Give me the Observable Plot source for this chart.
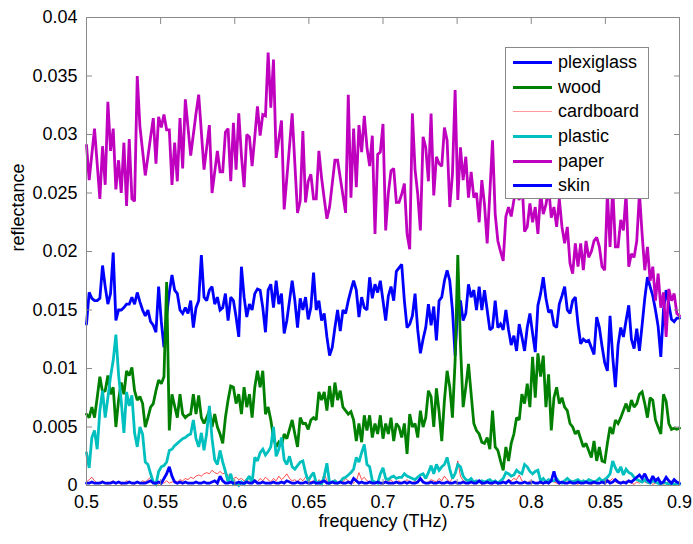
<!DOCTYPE html>
<html><head><meta charset="utf-8">
<script src="https://cdn.jsdelivr.net/npm/d3@7"></script>
<script src="https://cdn.jsdelivr.net/npm/@observablehq/plot@0.6"></script>
<style>
body{margin:0;background:#fff;font-family:"Liberation Sans",Arial,sans-serif;}
#wrap{position:relative;width:693px;height:544px;}
#legend{position:absolute;left:505px;top:47px;width:144px;height:152px;border:1px solid #888;background:#fff;box-sizing:border-box;padding-top:2px}
.row{display:flex;align-items:center;height:24.7px;font-size:18px;color:#000;white-space:nowrap}
.sw{width:39px;margin-left:7px;margin-right:6px}
</style></head><body><div id="wrap"><div id="legend"></div></div>
<script>
const xTicks = [0.5,0.55,0.6,0.65,0.7,0.75,0.8,0.85,0.9];
const yTicks = [0,0.005,0.01,0.015,0.02,0.025,0.03,0.035,0.04];
const N = 223;
const freq = d3.range(N).map(i => 0.5 + i * 0.4 / (N - 1));

const plexiglass = [
.0138,.0165,.0160,.0158,.0158,.0160,.0188,.0170,.0155,.0164,
.0199,.0141,.0150,.0150,.0152,.0155,.0155,.0161,.0155,.0165,
.0157,.0150,.0145,.0150,.0140,.0137,.0131,.0170,.0140,.0118,
.0145,.0165,.0180,.0167,.0164,.0150,.0147,.0152,.0147,.0158,
.0135,.0152,.0158,.0197,.0161,.0158,.0167,.0170,.0155,.0161,
.0150,.0152,.0164,.0141,.0161,.0158,.0144,.0127,.0187,.0161,
.0144,.0155,.0150,.0164,.0168,.0167,.0152,.0131,.0167,.0172,
.0152,.0175,.0155,.0164,.0130,.0141,.0158,.0175,.0158,.0135,
.0160,.0150,.0161,.0142,.0152,.0182,.0150,.0158,.0141,.0147,
.0127,.0111,.0118,.0135,.0150,.0132,.0150,.0147,.0158,.0167,
.0175,.0167,.0144,.0161,.0152,.0150,.0178,.0160,.0172,.0165,
.0175,.0158,.0141,.0162,.0170,.0158,.0183,.0186,.0189,.0158,
.0135,.0138,.0145,.0164,.0133,.0113,.0125,.0135,.0155,.0137,
.0153,.0124,.0158,.0161,.0175,.0184,.0175,.0150,.0111,.0155,
.0158,.0141,.0147,.0172,.0161,.0167,.0150,.0170,.0150,.0167,
.0150,.0133,.0135,.0158,.0135,.0138,.0133,.0150,.0133,.0120,
.0128,.0115,.0138,.0127,.0115,.0135,.0147,.0130,.0114,.0154,
.0164,.0178,.0160,.0148,.0150,.0137,.0135,.0155,.0162,.0170,
.0150,.0147,.0158,.0161,.0138,.0121,.0125,.0123,.0124,.0118,
.0112,.0144,.0135,.0119,.0105,.0098,.0145,.0110,.0084,.0120,
.0135,.0127,.0141,.0154,.0125,.0117,.0134,.0115,.0137,.0160,
.0178,.0170,.0162,.0150,.0136,.0110,.0150,.0167,.0155,.0142,
.0140,.0143,.0143];

const wood = [
.0061,.0058,.0067,.0058,.0075,.0093,.0080,.0081,.0094,.0078,
.0084,.0050,.0073,.0088,.0078,.0098,.0094,.0101,.0081,.0073,
.0076,.0070,.0050,.0058,.0067,.0070,.0081,.0090,.0087,.0093,
.0174,.0047,.0078,.0068,.0058,.0078,.0061,.0058,.0060,.0061,
.0078,.0061,.0077,.0058,.0053,.0058,.0064,.0050,.0061,.0050,
.0044,.0036,.0058,.0073,.0085,.0084,.0070,.0078,.0061,.0084,
.0067,.0078,.0058,.0084,.0098,.0084,.0098,.0061,.0067,.0056,
.0041,.0033,.0037,.0034,.0044,.0040,.0048,.0056,.0044,.0033,
.0058,.0053,.0053,.0048,.0056,.0058,.0056,.0080,.0073,.0080,
.0064,.0085,.0067,.0088,.0073,.0081,.0067,.0064,.0061,.0063,
.0056,.0038,.0053,.0037,.0060,.0047,.0060,.0041,.0053,.0044,
.0060,.0040,.0053,.0044,.0058,.0038,.0053,.0050,.0041,.0053,
.0027,.0061,.0050,.0053,.0041,.0064,.0050,.0058,.0081,.0076,
.0050,.0083,.0063,.0038,.0073,.0098,.0084,.0058,.0107,.0197,
.0120,.0067,.0084,.0104,.0078,.0053,.0047,.0044,.0037,.0036,
.0041,.0031,.0064,.0033,.0030,.0021,.0013,.0033,.0021,.0036,
.0044,.0058,.0056,.0078,.0070,.0087,.0067,.0110,.0075,.0113,
.0093,.0111,.0067,.0095,.0047,.0075,.0084,.0070,.0075,.0067,
.0064,.0053,.0050,.0044,.0047,.0040,.0033,.0036,.0030,.0024,
.0038,.0021,.0033,.0021,.0020,.0036,.0050,.0044,.0056,.0053,
.0058,.0064,.0070,.0063,.0073,.0067,.0070,.0078,.0080,.0070,
.0058,.0075,.0073,.0056,.0050,.0044,.0078,.0072,.0053,.0048,
.0049,.0048,.0049];

const cardboard = [
.0003,.0005,.0007,.0004,.0002,.0003,.0004,.0002,.0001,.0003,
.0004,.0002,.0003,.0001,.0002,.0004,.0003,.0002,.0001,.0003,
.0002,.0004,.0003,.0005,.0007,.0004,.0002,.0001,.0003,.0002,
.0004,.0002,.0003,.0004,.0003,.0005,.0004,.0006,.0005,.0007,
.0006,.0008,.0009,.0008,.0010,.0011,.0010,.0013,.0011,.0010,
.0012,.0010,.0011,.0009,.0008,.0006,.0007,.0005,.0006,.0004,
.0005,.0003,.0004,.0005,.0003,.0006,.0004,.0007,.0005,.0003,
.0006,.0004,.0008,.0005,.0007,.0010,.0006,.0004,.0005,.0003,
.0006,.0004,.0007,.0005,.0003,.0004,.0002,.0005,.0003,.0010,
.0004,.0002,.0003,.0005,.0002,.0004,.0003,.0006,.0004,.0003,
.0002,.0004,.0011,.0005,.0007,.0004,.0003,.0005,.0002,.0004,
.0003,.0002,.0004,.0003,.0005,.0002,.0003,.0004,.0002,.0003,
.0005,.0003,.0002,.0004,.0003,.0006,.0004,.0002,.0003,.0005,
.0004,.0003,.0006,.0004,.0008,.0005,.0003,.0006,.0010,.0021,
.0008,.0004,.0003,.0002,.0004,.0003,.0002,.0003,.0001,.0002,
.0003,.0002,.0001,.0003,.0002,.0004,.0003,.0002,.0005,.0004,
.0006,.0005,.0009,.0004,.0003,.0002,.0004,.0003,.0002,.0003,
.0002,.0001,.0003,.0002,.0004,.0003,.0002,.0001,.0003,.0002,
.0003,.0002,.0004,.0002,.0001,.0003,.0002,.0003,.0002,.0001,
.0002,.0003,.0002,.0004,.0003,.0005,.0004,.0006,.0003,.0002,
.0003,.0002,.0004,.0003,.0002,.0001,.0003,.0002,.0004,.0003,
.0002,.0003,.0001,.0002,.0003,.0002,.0001,.0002,.0003,.0002,
.0001,.0002,.0001];

const plastic = [
.0028,.0015,.0041,.0047,.0031,.0064,.0081,.0058,.0075,.0093,
.0107,.0129,.0095,.0072,.0045,.0080,.0068,.0077,.0045,.0033,
.0050,.0044,.0020,.0018,.0010,.0003,.0001,.0012,.0016,.0017,
.0020,.0030,.0031,.0034,.0036,.0038,.0040,.0041,.0043,.0044,
.0056,.0040,.0033,.0045,.0030,.0045,.0068,.0040,.0022,.0018,
.0030,.0020,.0012,.0003,.0010,.0001,.0002,.0000,.0003,.0001,
.0005,.0008,.0002,.0024,.0021,.0028,.0031,.0026,.0029,.0033,
.0050,.0025,.0031,.0041,.0022,.0018,.0025,.0016,.0014,.0017,
.0020,.0021,.0011,.0004,.0008,.0011,.0002,.0003,.0001,.0008,
.0019,.0002,.0003,.0004,.0002,.0003,.0006,.0007,.0009,.0011,
.0014,.0024,.0020,.0028,.0035,.0018,.0016,.0004,.0003,.0002,
.0010,.0015,.0006,.0005,.0007,.0008,.0006,.0007,.0007,.0010,
.0008,.0007,.0006,.0005,.0007,.0009,.0010,.0006,.0011,.0017,
.0010,.0018,.0013,.0016,.0018,.0024,.0014,.0006,.0010,.0018,
.0016,.0008,.0005,.0004,.0006,.0003,.0004,.0003,.0004,.0003,
.0004,.0005,.0003,.0004,.0002,.0004,.0006,.0011,.0010,.0008,
.0009,.0013,.0011,.0010,.0018,.0016,.0012,.0010,.0012,.0013,
.0004,.0006,.0003,.0005,.0004,.0004,.0006,.0003,.0002,.0004,
.0006,.0004,.0003,.0004,.0005,.0003,.0004,.0003,.0005,.0004,
.0003,.0004,.0006,.0004,.0005,.0007,.0010,.0021,.0015,.0011,
.0016,.0009,.0014,.0011,.0010,.0007,.0005,.0004,.0003,.0005,
.0003,.0002,.0004,.0003,.0002,.0001,.0003,.0002,.0001,.0002,
.0001,.0002,.0001];

const paper = [
.0291,.0261,.0283,.0305,.0275,.0245,.0290,.0257,.0328,.0286,
.0305,.0253,.0278,.0250,.0293,.0239,.0296,.0245,.0243,.0350,
.0307,.0286,.0265,.0281,.0298,.0314,.0275,.0315,.0306,.0317,
.0304,.0304,.0257,.0293,.0260,.0314,.0271,.0330,.0306,.0282,
.0300,.0318,.0334,.0302,.0270,.0289,.0308,.0250,.0268,.0286,
.0268,.0268,.0302,.0305,.0260,.0310,.0270,.0318,.0282,.0255,
.0300,.0298,.0273,.0298,.0324,.0299,.0317,.0316,.0370,.0323,
.0364,.0280,.0296,.0312,.0236,.0263,.0290,.0318,.0275,.0233,
.0243,.0303,.0242,.0260,.0266,.0245,.0245,.0286,.0263,.0245,
.0228,.0238,.0258,.0278,.0278,.0263,.0248,.0233,.0334,.0246,
.0305,.0255,.0308,.0285,.0316,.0289,.0273,.0299,.0215,.0283,
.0285,.0309,.0218,.0250,.0269,.0271,.0242,.0242,.0249,.0258,
.0215,.0202,.0318,.0270,.0249,.0218,.0298,.0289,.0260,.0318,
.0248,.0281,.0275,.0273,.0306,.0295,.0238,.0266,.0338,.0244,
.0289,.0261,.0281,.0246,.0268,.0246,.0250,.0225,.0261,.0240,
.0207,.0250,.0295,.0232,.0209,.0200,.0192,.0230,.0238,.0230,
.0244,.0250,.0244,.0262,.0217,.0221,.0241,.0225,.0238,.0215,
.0250,.0232,.0240,.0255,.0229,.0238,.0221,.0245,.0221,.0207,
.0221,.0190,.0181,.0207,.0187,.0207,.0184,.0209,.0195,.0200,
.0209,.0212,.0204,.0187,.0184,.0250,.0204,.0255,.0204,.0204,
.0227,.0218,.0250,.0187,.0198,.0195,.0209,.0250,.0215,.0184,
.0204,.0175,.0187,.0158,.0181,.0152,.0165,.0127,.0168,.0158,
.0164,.0147,.0145];

const skin = [
.0002,.0002,.0003,.0002,.0002,.0002,.0003,.0002,.0002,.0002,
.0003,.0002,.0003,.0002,.0002,.0002,.0003,.0002,.0002,.0003,
.0002,.0002,.0002,.0003,.0004,.0002,.0002,.0003,.0002,.0006,
.0010,.0016,.0008,.0003,.0002,.0003,.0002,.0003,.0002,.0002,
.0002,.0003,.0002,.0002,.0003,.0002,.0002,.0003,.0004,.0002,
.0008,.0004,.0002,.0002,.0003,.0002,.0002,.0003,.0002,.0002,
.0003,.0002,.0002,.0004,.0002,.0002,.0003,.0002,.0002,.0002,
.0003,.0002,.0002,.0003,.0002,.0004,.0003,.0002,.0002,.0003,
.0002,.0002,.0003,.0002,.0002,.0003,.0002,.0002,.0003,.0004,
.0002,.0002,.0003,.0002,.0002,.0003,.0002,.0002,.0003,.0002,
.0006,.0004,.0002,.0003,.0002,.0002,.0003,.0002,.0002,.0003,
.0002,.0002,.0003,.0002,.0002,.0002,.0003,.0002,.0002,.0003,
.0002,.0003,.0002,.0002,.0003,.0006,.0003,.0002,.0002,.0003,
.0002,.0002,.0003,.0002,.0002,.0003,.0002,.0002,.0003,.0002,
.0002,.0003,.0002,.0002,.0003,.0002,.0002,.0004,.0002,.0002,
.0003,.0002,.0002,.0003,.0002,.0002,.0003,.0002,.0004,.0002,
.0002,.0003,.0002,.0002,.0003,.0002,.0002,.0003,.0002,.0002,
.0003,.0002,.0003,.0002,.0004,.0012,.0004,.0002,.0003,.0002,
.0002,.0003,.0002,.0002,.0003,.0002,.0002,.0003,.0002,.0002,
.0003,.0002,.0002,.0003,.0002,.0004,.0002,.0003,.0005,.0003,
.0002,.0003,.0002,.0004,.0003,.0005,.0007,.0009,.0006,.0010,
.0005,.0003,.0008,.0004,.0006,.0002,.0003,.0007,.0004,.0002,
.0005,.0003,.0002];

const seriesNames = ["plexiglass","wood","cardboard","plastic","paper","skin"];
const seriesColors = ["#0000ff","#008000","#ff2020","#00bfbf","#bf00bf","#0000ff"];
const seriesWidths = [2.8,2.8,0.8,2.8,2.8,2.8];
const seriesData = [plexiglass, wood, cardboard, plastic, paper, skin];

const lines = seriesData.map((vals, k) =>
  Plot.line(vals, {x: (d, i) => freq[i], y: d => d, stroke: seriesColors[k], strokeWidth: seriesWidths[k], strokeLinejoin: "miter", strokeMiterlimit: 2})
);

const chart = Plot.plot({
  width: 693, height: 544,
  marginLeft: 86, marginRight: 14, marginTop: 17, marginBottom: 59,
  style: {fontFamily: "'Liberation Sans', Arial, sans-serif", fontSize: "18px", color: "#000", background: "transparent", overflow: "visible"},
  x: {domain: [0.5, 0.9], axis: null},
  y: {domain: [0, 0.04], axis: null},
  marks: [
    ...lines,
    Plot.frame({stroke: "#8a8a8a"}),
    Plot.axisX(xTicks, {anchor: "bottom", tickSize: -6, tickPadding: 16, tickFormat: d => String(d), stroke: "#8a8a8a", fill: "#000", label: null}),
    Plot.axisX(xTicks, {anchor: "top", tickSize: -6, tickFormat: () => "", stroke: "#8a8a8a", label: null}),
    Plot.axisY(yTicks, {anchor: "left", tickSize: -6, tickPadding: 15, tickFormat: d => String(d), stroke: "#8a8a8a", fill: "#000", label: null}),
    Plot.axisY(yTicks, {anchor: "right", tickSize: -6, tickFormat: () => "", stroke: "#8a8a8a", label: null}),
    Plot.text(["frequency (THz)"], {frameAnchor: "bottom", dy: 41, fontSize: 18, fill: "#000"}),
    Plot.text(["reflectance"], {frameAnchor: "left", dx: -68, rotate: -90, fontSize: 18, fill: "#000"})
  ]
});
document.getElementById("wrap").prepend(chart);

const legend = document.getElementById("legend");
seriesNames.forEach((name, k) => {
  const row = document.createElement("div");
  row.className = "row";
  const sw = document.createElement("div");
  sw.className = "sw";
  sw.style.height = (k === 2 ? 1 : 3) + "px";
  sw.style.background = k === 2 ? "#ff9a9a" : seriesColors[k];
  row.appendChild(sw);
  const t = document.createElement("span");
  t.textContent = name;
  row.appendChild(t);
  legend.appendChild(row);
});
</script>
</body></html>
